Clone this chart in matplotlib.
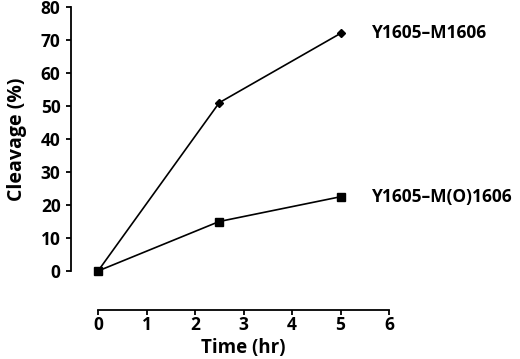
import numpy as np
import matplotlib
matplotlib.use("Agg")
import matplotlib.pyplot as plt

# data
time_hr = [0, 2.5, 5]
cleavage_m = [0, 51, 72]      # Y1605-M1606
cleavage_mo = [0, 15, 22.5]   # Y1605-M(O)1606
labels = ["Y1605\u2013M1606", "Y1605\u2013M(O)1606"]
x_ticks = [0, 1, 2, 3, 4, 5, 6]
y_ticks = [0, 10, 20, 30, 40, 50, 60, 70, 80]

plt.rcParams["font.family"] = ["Open Sans", "DejaVu Sans"]

fig = plt.figure(figsize=(5.2, 3.59), dpi=100)
ax = fig.add_axes([71/520, 1-271/359, (389-71)/520, 264/359])

ax.plot(time_hr, cleavage_m, color="black", lw=1.2, marker="D", markersize=4.5, clip_on=False)
ax.plot(time_hr, cleavage_mo, color="black", lw=1.2, marker="s", markersize=5.5, clip_on=False)

ax.set_xlim(-0.557, 6)
ax.set_ylim(0, 80)

#axes styling
for s in ["top", "right"]:
    ax.spines[s].set_visible(False)
ax.spines["bottom"].set_position(("outward", 28))
ax.spines["bottom"].set_bounds(0, 6)
ax.spines["left"].set_bounds(0, 80)
ax.spines["left"].set_linewidth(1.3)
ax.spines["bottom"].set_linewidth(1.3)

ax.set_xticks(x_ticks)
ax.set_yticks(y_ticks)
ax.tick_params(direction="out", length=3.5, width=1.3, labelsize=12.5, pad=4)
ax.tick_params(axis="x", pad=1)
for t in ax.get_xticklabels() + ax.get_yticklabels():
    t.set_fontweight("bold")

ax.set_xlabel("Time (hr)", fontsize=13.5, fontweight="bold")
ax.xaxis.set_label_coords(0.542, -0.255)
ax.set_ylabel("Cleavage (%)", fontsize=14, fontweight="bold", labelpad=10)

ax.annotate(labels[0], xy=(time_hr[-1], cleavage_m[-1]), xytext=(31, 0),
            textcoords="offset pixels", va="center", ha="left",
            fontsize=12.5, fontweight="bold", annotation_clip=False)
ax.annotate(labels[1], xy=(time_hr[-1], cleavage_mo[-1]), xytext=(31, 0),
            textcoords="offset pixels", va="center", ha="left",
            fontsize=12.5, fontweight="bold", annotation_clip=False)

plt.savefig("out.png", dpi=100)
